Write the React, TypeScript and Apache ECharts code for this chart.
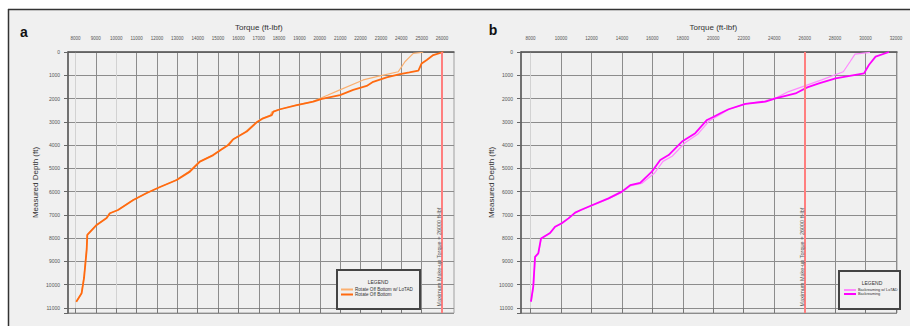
import React, { useEffect, useRef } from "react";
import * as echarts from "echarts";

const FONT = "'Liberation Sans', Arial, sans-serif";

// ---------- tick values ----------
const aTorqueTicks = [8000, 9000, 10000, 11000, 12000, 13000, 14000, 15000, 16000, 17000, 18000, 19000, 20000, 21000, 22000, 23000, 24000, 25000, 26000];
const bTorqueTicks = [8000, 10000, 12000, 14000, 16000, 18000, 20000, 22000, 24000, 26000, 28000, 30000, 32000];
const depthTicks = [0, 1000, 2000, 3000, 4000, 5000, 6000, 7000, 8000, 9000, 10000, 11000];

// ---------- panel a ----------
const aOffTorque = [26070, 25570, 25250, 25000, 24840, 24400, 23940, 23280, 22620, 22300, 21640, 20990, 20100, 19680, 18870, 18050, 17720, 17640, 17220, 16900, 16410, 15750, 15510, 15150, 14770, 14110, 13620, 12970, 12150, 11500, 10840, 10090, 9690, 9530, 9040, 8580, 8550, 8420, 8300, 8040];
const aOffDepth = [0, 130, 340, 490, 800, 880, 950, 1090, 1280, 1460, 1630, 1850, 2010, 2130, 2280, 2460, 2560, 2710, 2850, 3020, 3420, 3750, 4000, 4200, 4430, 4710, 5140, 5500, 5800, 6060, 6360, 6790, 6930, 7130, 7430, 7860, 8500, 9710, 10370, 10730];
const aLoTADTorque = [25080, 24590, 24180, 24020, 23850, 22790, 22130, 20900, 20400, 20000, 19600, 18800, 18000, 17650, 17560, 17150, 16850, 16330, 15700, 15430, 15080, 14700, 14050, 13520, 12900, 12100, 11450, 10800, 10060, 9660, 9510, 9020, 8570, 8540, 8410, 8290, 8030];
const aLoTADDepth = [10, 60, 420, 630, 850, 1060, 1200, 1660, 1850, 2000, 2140, 2290, 2470, 2570, 2720, 2860, 3040, 3440, 3770, 4020, 4220, 4450, 4730, 5170, 5520, 5820, 6080, 6370, 6800, 6940, 7140, 7440, 7870, 8500, 9720, 10380, 10740];

// ---------- panel b ----------
const bBackTorque = [31540, 30660, 30220, 29900, 28030, 26940, 26170, 25400, 24090, 23430, 22110, 21010, 20470, 20030, 19590, 18820, 17950, 17070, 16520, 15970, 15200, 14550, 14000, 13120, 11800, 11300, 10930, 10490, 10050, 9610, 9280, 8690, 8510, 8300, 8180, 8030];
const bBackDepth = [0, 200, 560, 920, 1130, 1350, 1520, 1780, 1990, 2130, 2230, 2460, 2630, 2780, 2920, 3490, 3850, 4430, 4640, 5140, 5620, 5720, 6000, 6290, 6650, 6790, 6900, 7150, 7360, 7510, 7780, 8010, 8650, 8800, 10080, 10730];
const bLoTADTorque = [30290, 29310, 28980, 28540, 27120, 24950, 24200, 23350, 22050, 20950, 20550, 20150, 19750, 19000, 18150, 17300, 16700, 16150, 15300, 14600, 14050, 13150, 11820, 11320, 10950, 10500, 10060, 9620, 9290, 8700, 8520, 8310, 8190, 8040];
const bLoTADDepth = [15, 90, 420, 850, 1200, 1700, 1950, 2110, 2240, 2480, 2650, 2800, 2950, 3520, 3900, 4480, 4700, 5200, 5650, 5740, 6010, 6300, 6660, 6800, 6910, 7160, 7370, 7520, 7790, 8020, 8660, 8810, 10090, 10740];

const torqueLimit = 26000;
const legendA = ["Rotate Off Bottom w/ LoTAD", "Rotate Off Bottom"];
const legendB = ["Backreaming w/ LoTAD", "Backreaming"];
const limitText = "Maximum Make-up Torque = 26000 ft-lbf";

const zip = (xs: number[], ys: number[]) => xs.map((x, i) => [x, ys[i]]);

const GRID_COLOR = "#8c8c8c";
const LIGHT_GRID = "#d2d2d2";

function buildOption() {
  const top = 52;
  const height = 261;
  const yMax = 11215;

  const dataYAxis = (gridIndex: number, nameGap: number) => ({
    gridIndex,
    type: "value",
    inverse: true,
    min: depthTicks[0],
    max: yMax,
    interval: depthTicks[1] - depthTicks[0],
    name: "Measured Depth (ft)",
    nameLocation: "middle",
    nameGap,
    nameTextStyle: { fontSize: 8, color: "#333", fontFamily: FONT },
    axisLine: { show: true, lineStyle: { color: "#555", width: 1.5 } },
    axisTick: { show: true, inside: false, length: 4, lineStyle: { color: "#666" } },
    axisLabel: {
      fontSize: 5,
      color: "#555",
      margin: 8,
      fontFamily: FONT,
      formatter: (v: number) => (depthTicks.includes(v) ? String(v) : ""),
    },
    splitLine: { show: true, lineStyle: { color: GRID_COLOR, width: 1 } },
  });

  const dataXAxis = (gridIndex: number, min: number, max: number) => ({
    gridIndex,
    type: "value",
    position: "top",
    min,
    max,
    axisLine: { show: true, lineStyle: { color: "#555", width: 1.5 } },
    axisTick: { show: false },
    axisLabel: { show: false },
    splitLine: { show: false },
  });

  const displayXAxis = (gridIndex: number, ticks: number[]) => ({
    gridIndex,
    type: "value",
    position: "top",
    min: ticks[0],
    max: ticks[ticks.length - 1],
    interval: ticks[1] - ticks[0],
    name: "Torque (ft-lbf)",
    nameLocation: "middle",
    nameGap: 18,
    nameTextStyle: { fontSize: 8, color: "#333", fontFamily: FONT },
    axisLine: { show: false },
    axisTick: { show: true, inside: false, length: 5, lineStyle: { color: "#777" } },
    axisLabel: { fontSize: 4.5, color: "#555", margin: 11, fontFamily: FONT, formatter: (v: number) => String(v) },
    splitLine: {
      show: true,
      lineStyle: {
        color: ticks.map((_, i) => (i === 0 || (ticks.length === 19 && i === 2) ? LIGHT_GRID : GRID_COLOR)),
        width: 1,
      },
    },
  });

  const hiddenY = (gridIndex: number) => ({ gridIndex, type: "value", min: 0, max: 1, show: false });

  const redLine = {
    silent: true,
    symbol: ["none", "none"],
    label: { show: false },
    lineStyle: { color: "#ff7f7f", width: 2, type: "solid" },
    data: [{ xAxis: torqueLimit }],
  };

  const legendBox = (x: number, y: number, w: number, h: number) => ({
    type: "rect",
    z: 5,
    shape: { x, y, width: w, height: h },
    style: { fill: "#f0f0f0", stroke: "#444", lineWidth: 2 },
    silent: true,
  });

  const txt = (x: number, y: number, text: string, font: string, extra: any = {}) => ({
    type: "text",
    z: 6,
    x,
    y,
    silent: true,
    style: { text, font, fill: "#333", textAlign: "center", textVerticalAlign: "middle", ...extra },
  });

  return {
    animation: false,
    backgroundColor: "#f0f0f0",
    textStyle: { fontFamily: FONT },
    grid: [
      { left: 68, top, width: 386, height, show: true, borderColor: "#a0a0a0", borderWidth: 1, backgroundColor: "transparent", outerBoundsMode: "none" },
      { left: 75.5, top, width: 366.5, height, show: false, outerBoundsMode: "none" },
      { left: 521, top, width: 376, height, show: true, borderColor: "#a0a0a0", borderWidth: 1, backgroundColor: "transparent", outerBoundsMode: "none" },
      { left: 530.5, top, width: 365.5, height, show: false, outerBoundsMode: "none" },
    ],
    xAxis: [
      dataXAxis(0, 7632, 26589),
      displayXAxis(1, aTorqueTicks),
      dataXAxis(2, 7376, 32066),
      displayXAxis(3, bTorqueTicks),
    ],
    yAxis: [dataYAxis(0, 29), hiddenY(1), dataYAxis(2, 24), hiddenY(3)],
    legend: [
      {
        data: legendA,
        left: 341,
        top: 287,
        orient: "vertical",
        icon: "rect",
        itemWidth: 12,
        itemHeight: 2,
        itemGap: 0,
        padding: 0,
        z: 10,
        textStyle: { fontSize: 4.6, color: "#333", fontFamily: FONT, padding: [0, 0, 0, -3] },
      },
      {
        data: legendB,
        left: 844,
        top: 288,
        orient: "vertical",
        icon: "rect",
        itemWidth: 12,
        itemHeight: 2,
        itemGap: 0,
        padding: 0,
        z: 10,
        textStyle: { fontSize: 3.8, color: "#333", fontFamily: FONT, padding: [0, 0, 0, -3] },
      },
    ],
    series: [
      {
        type: "line",
        name: legendA[0],
        xAxisIndex: 0,
        yAxisIndex: 0,
        data: zip(aLoTADTorque, aLoTADDepth),
        showSymbol: false,
        color: "#fbb070",
        lineStyle: { width: 1.2 },
        z: 3,
      },
      {
        type: "line",
        name: legendA[1],
        xAxisIndex: 0,
        yAxisIndex: 0,
        data: zip(aOffTorque, aOffDepth),
        showSymbol: false,
        color: "#ff6a10",
        lineStyle: { width: 1.8 },
        z: 4,
        markLine: redLine,
      },
      {
        type: "line",
        name: legendB[0],
        xAxisIndex: 2,
        yAxisIndex: 2,
        data: zip(bLoTADTorque, bLoTADDepth),
        showSymbol: false,
        color: "#ff88ff",
        lineStyle: { width: 1.2 },
        z: 3,
      },
      {
        type: "line",
        name: legendB[1],
        xAxisIndex: 2,
        yAxisIndex: 2,
        data: zip(bBackTorque, bBackDepth),
        showSymbol: false,
        color: "#ff00ff",
        lineStyle: { width: 1.8 },
        z: 4,
        markLine: redLine,
      },
    ],
    graphic: [
      { type: "rect", z: 1, silent: true, shape: { x: 0, y: 0, width: 910, height: 9 }, style: { fill: "#ffffff" } },
      { type: "rect", z: 1, silent: true, shape: { x: 0, y: 0, width: 8, height: 326 }, style: { fill: "#ffffff" } },
      { type: "line", z: 2, silent: true, shape: { x1: 8, y1: 9.5, x2: 910, y2: 9.5 }, style: { stroke: "#333", lineWidth: 1.5 } },
      { type: "line", z: 2, silent: true, shape: { x1: 8.5, y1: 9, x2: 8.5, y2: 326 }, style: { stroke: "#333", lineWidth: 1.5 } },
      txt(24, 32, "a", `bold 14px ${FONT}`, { fill: "#111" }),
      txt(493, 30, "b", `bold 14px ${FONT}`, { fill: "#111" }),
      legendBox(337, 270, 83, 39),
      txt(378, 282, "LEGEND", `5px ${FONT}`),
      legendBox(839, 271, 61, 38),
      txt(872, 283, "LEGEND", `5px ${FONT}`),
      { ...txt(439, 257, limitText, `5.5px ${FONT}`, { fill: "#555" }), rotation: Math.PI / 2 },
      { ...txt(802, 257, limitText, `5.5px ${FONT}`, { fill: "#555" }), rotation: Math.PI / 2 },
    ],
  };
}

export default function App() {
  const ref = useRef<HTMLDivElement>(null);
  useEffect(() => {
    if (!ref.current) return;
    const chart = echarts.init(ref.current, undefined, { renderer: "svg" });
    chart.setOption(buildOption() as any);
    return () => chart.dispose();
  }, []);
  return <div ref={ref} style={{ position: "fixed", left: 0, top: 0, width: 910, height: 326 }} />;
}
